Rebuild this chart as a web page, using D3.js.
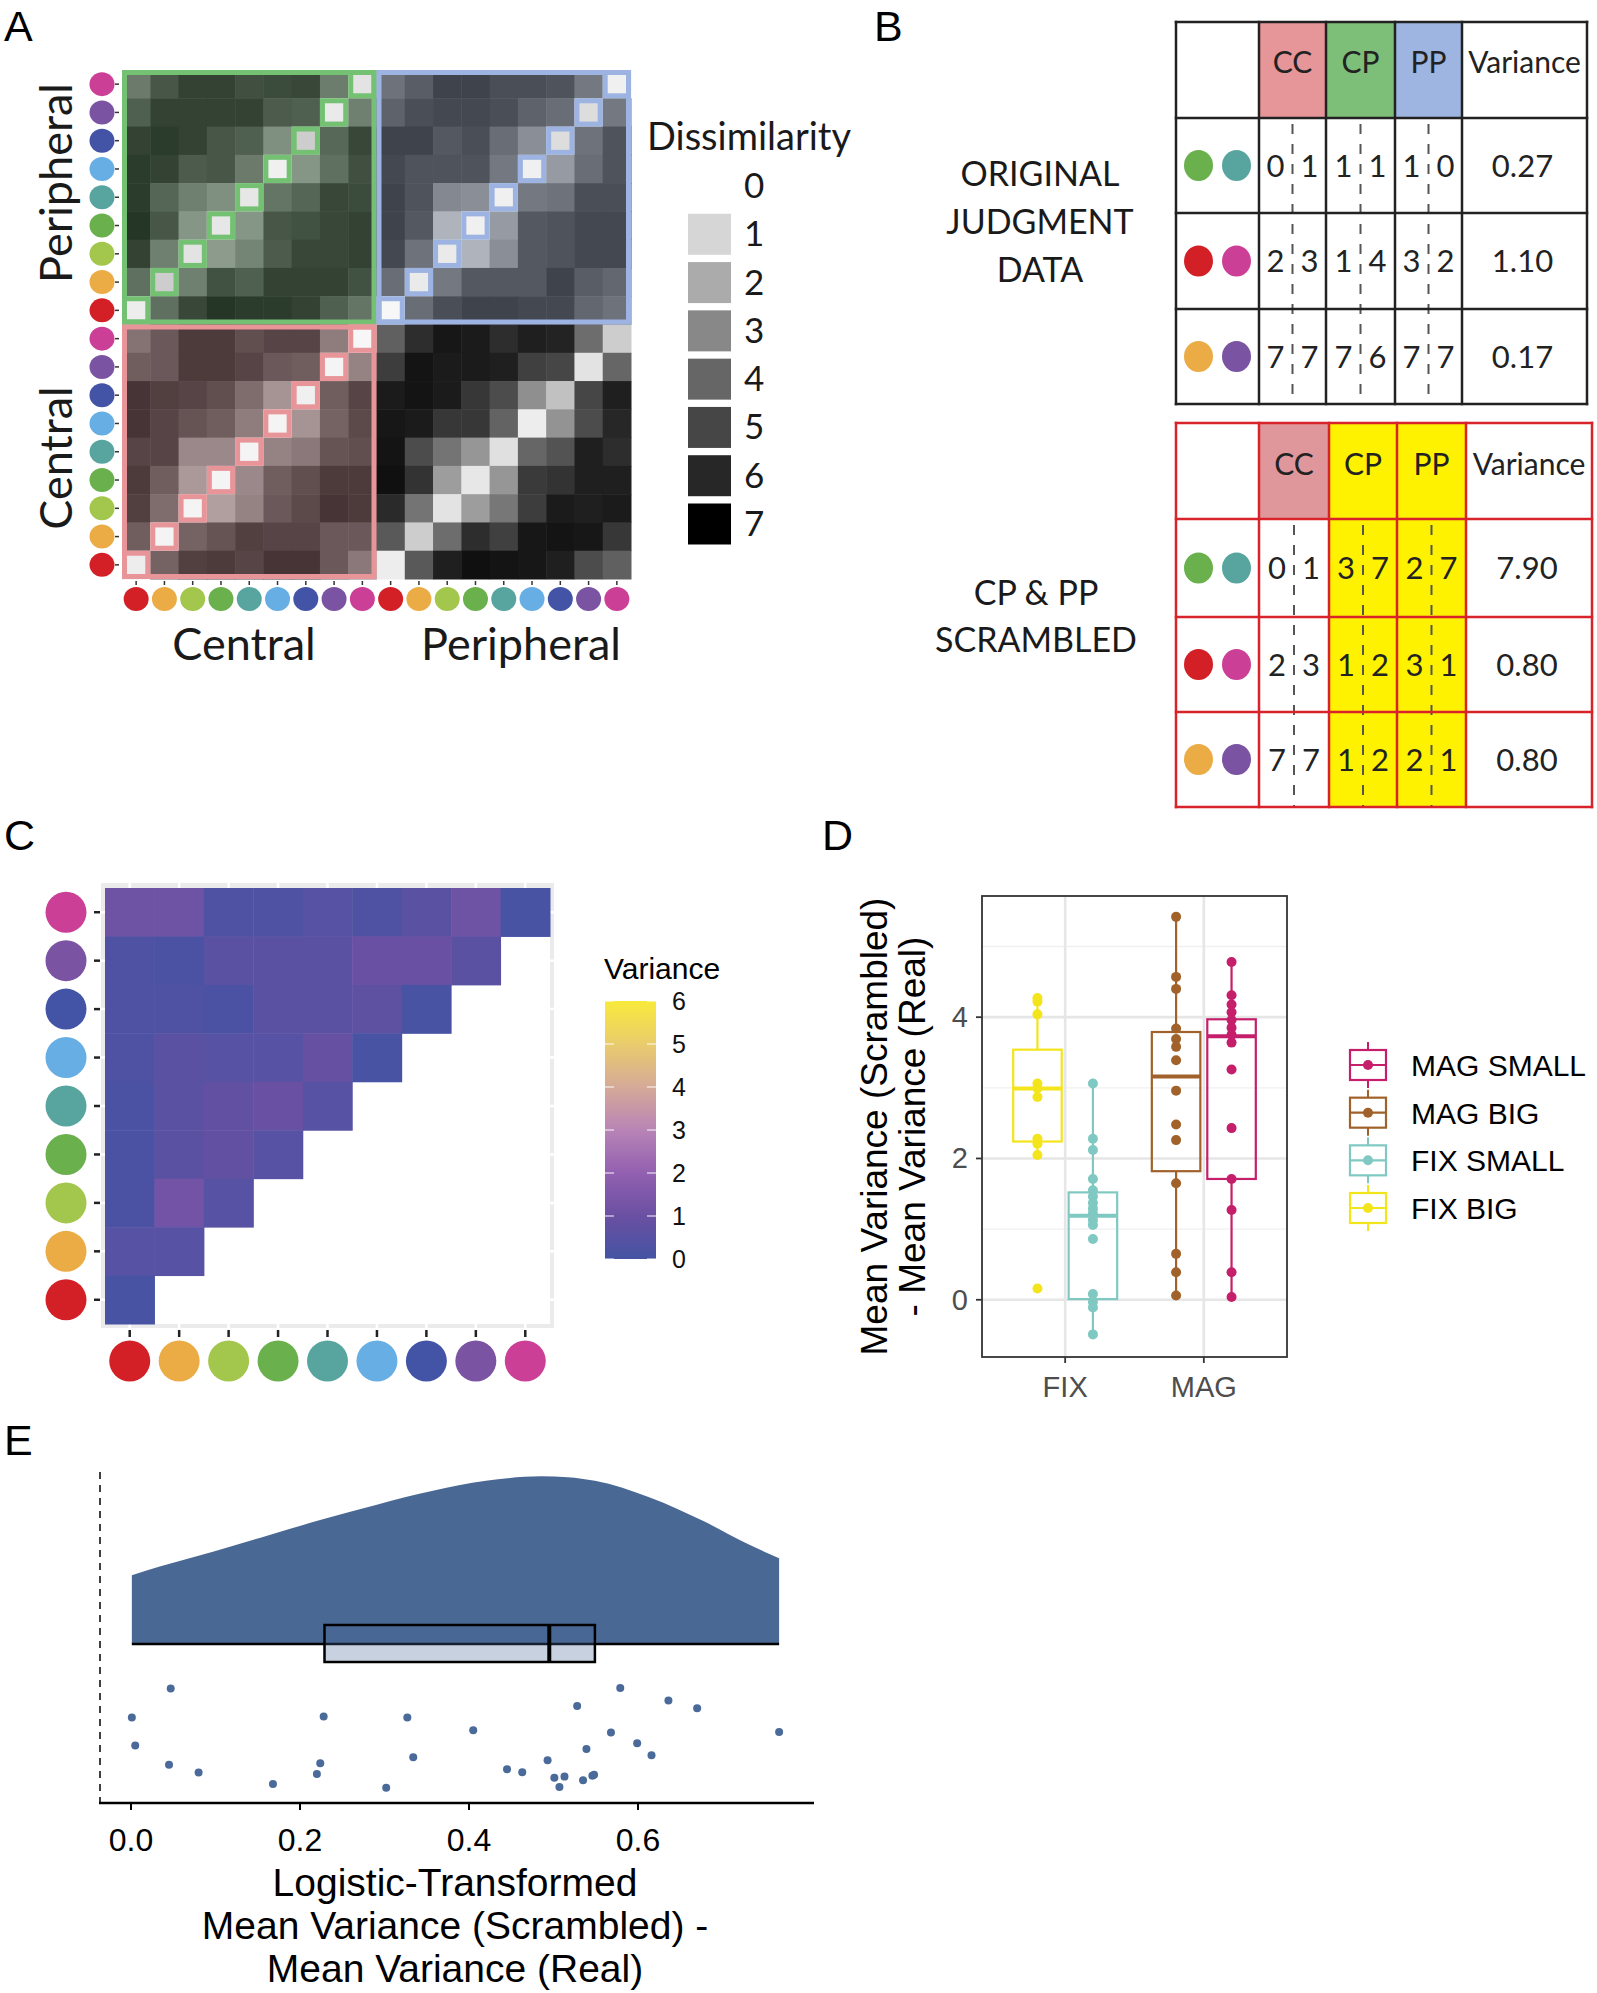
<!DOCTYPE html>
<html><head><meta charset="utf-8">
<script src="https://cdn.jsdelivr.net/npm/d3@7"></script>
<style>body{margin:0;background:#fff}svg{display:block}</style>
</head><body>
<svg id="fig" width="1597" height="1993"></svg>
<script>
// ---------------- DATA ----------------
const hueNames  = ["red","orange","lime","green","teal","lightblue","darkblue","purple","pink"];
const hueColors = ["#d32027","#ebac46","#a3c64c","#6ab04c","#58a59f","#66aee3","#4353a6","#7a53a3","#cb3f96"];

// Panel A: rows listed top (pink) -> bottom (red); columns red -> pink
const matCP = [
 [3.8,5.2,6.0,6.0,5.5,5.6,5.8,3.7,0.6],
 [4.8,6.0,6.0,6.0,6.0,5.0,4.8,0.4,3.6],
 [6.0,6.2,6.0,5.2,4.8,3.0,1.2,4.5,5.8],
 [6.2,6.0,5.0,5.2,3.8,0.2,2.8,4.2,5.5],
 [6.2,4.6,3.6,3.0,0.5,4.0,4.6,5.8,5.6],
 [6.4,5.2,2.8,0.5,2.8,5.2,5.4,5.8,6.0],
 [6.0,3.6,0.6,2.6,3.4,5.0,5.8,5.8,6.0],
 [4.2,1.2,3.6,5.4,4.8,6.0,6.0,6.0,5.4],
 [0.3,4.2,5.8,6.4,6.2,6.2,6.0,4.8,4.0]];
const matPP = [
 [4.0,4.8,5.8,5.8,5.4,5.4,5.2,3.8,0.2],
 [4.6,5.4,5.6,5.6,5.4,4.6,4.2,0.8,3.8],
 [5.8,5.8,5.0,5.4,4.2,3.0,0.8,4.0,5.2],
 [5.6,5.2,5.2,5.2,3.8,0.2,2.6,4.2,5.2],
 [5.8,5.2,3.2,3.0,0.2,3.8,4.0,5.4,5.4],
 [5.8,5.0,1.8,0.2,2.6,5.0,5.2,5.6,5.6],
 [5.6,4.0,0.4,1.8,3.0,5.0,5.2,5.6,5.6],
 [4.2,0.4,3.8,5.0,5.0,5.0,5.8,4.8,4.4],
 [0.0,4.2,5.4,5.8,5.8,5.6,5.6,4.4,4.0]];
const matCC = [
 [3.8,4.8,6.0,6.0,5.2,5.6,5.6,3.4,0.0],
 [4.6,4.8,6.0,6.0,5.6,4.8,4.6,0.1,3.2],
 [6.2,5.8,5.6,5.2,4.0,2.6,0.2,4.6,5.6],
 [6.2,5.6,5.0,4.6,3.4,0.1,2.6,4.4,5.4],
 [5.6,5.6,3.0,3.0,0.1,3.2,3.6,5.0,5.2],
 [6.0,4.6,2.4,0.1,3.0,4.6,5.2,6.0,6.0],
 [5.8,4.0,0.1,2.2,3.2,4.8,5.4,6.2,6.0],
 [4.6,0.1,4.4,5.0,5.8,5.6,5.6,4.8,4.8],
 [0.3,4.4,5.8,6.0,5.6,6.2,6.2,4.8,3.6]];
const matPC = [
 [4.2,5.8,6.4,6.3,5.8,6.2,6.1,3.8,1.2],
 [5.3,6.5,6.3,6.3,6.2,5.2,5.0,0.6,4.0],
 [6.3,6.5,6.3,5.5,4.8,2.8,1.5,5.0,6.2],
 [6.4,6.3,5.5,5.5,4.1,0.3,2.7,4.8,6.0],
 [6.5,4.8,3.6,2.6,0.7,4.0,4.6,6.2,5.8],
 [6.6,5.6,2.4,0.5,2.6,5.4,5.6,6.2,6.2],
 [5.9,3.6,0.6,2.4,3.5,5.3,6.3,6.2,6.3],
 [4.4,1.2,3.8,5.8,5.2,6.4,6.5,6.4,5.5],
 [0.3,4.4,6.2,6.6,6.5,6.4,6.2,4.8,4.2]];
const dissimTicks  = [0,1,2,3,4,5,6,7];
const dissimColors = ["#f7f7f7","#d6d6d6","#ababab","#888888","#666666","#464646","#272727","#000000"];
const axisGroupsA  = ["Central","Peripheral"];

// Panel B
const tableHeaders = ["CC","CP","PP","Variance"];
const origPairs = [["green","teal"],["red","pink"],["orange","purple"]];
const origCC = [[0,1],[2,3],[7,7]];
const origCP = [[1,1],[1,4],[7,6]];
const origPP = [[1,0],[3,2],[7,7]];
const origVar = ["0.27","1.10","0.17"];
const scrPairs = [["green","teal"],["red","pink"],["orange","purple"]];
const scrCC = [[0,1],[2,3],[7,7]];
const scrCP = [[3,7],[1,2],[1,2]];
const scrPP = [[2,7],[3,1],[2,1]];
const scrVar = ["7.90","0.80","0.80"];
const origLabel = ["ORIGINAL","JUDGMENT","DATA"];
const scrLabel = ["CP & PP","SCRAMBLED"];

// Panel C: rows top (pink) -> bottom (red), columns red -> ...
const cVals = [
 [1.1,1.1,0.3,0.3,0.5,0.3,0.6,1.1,0.1],
 [0.3,0.2,0.6,0.6,0.6,1.0,1.0,0.6],
 [0.3,0.3,0.2,0.6,0.6,0.7,0.1],
 [0.3,0.6,0.5,0.5,0.9,0.1],
 [0.2,0.6,0.8,1.0,0.5],
 [0.2,0.6,0.8,0.5],
 [0.2,1.2,0.5],
 [0.5,0.5],
 [0.1]];
const varTicks  = [0,1,2,3,4,5,6];
const varColors = ["#4453a3","#6a50a2","#9260b0","#b884b6","#d5aa98","#e9cc6c","#f8ea3b"];

// Panel D
const dGroups   = ["FIX BIG","FIX SMALL","MAG BIG","MAG SMALL"];
const dCats     = ["FIX","MAG"];
const dColors   = ["#f3e41c","#80c9c2","#a0622a","#c51f6b"];
const boxLower  = [2.05,-0.49,0.06,0.04];
const boxQ1     = [2.24, 0.01,1.82,1.71];
const boxMed    = [2.99, 1.19,3.16,3.73];
const boxQ3     = [3.54, 1.52,3.79,3.97];
const boxUpper  = [4.27, 3.06,5.42,4.78];
const ptsFixBig   = [4.27,4.22,4.04,3.06,2.99,2.87,2.28,2.21,2.05,0.16];
const ptsFixSmall = [3.06,2.28,2.12,1.71,1.55,1.46,1.37,1.29,1.22,1.13,1.06,0.86,0.08,-0.03,-0.11,-0.49];
const ptsMagBig   = [5.42,4.57,4.40,3.84,3.69,3.58,3.39,2.96,2.48,2.26,1.65,0.65,0.39,0.06];
const ptsMagSmall = [4.78,4.31,4.18,4.07,3.96,3.85,3.75,3.64,3.26,2.43,1.71,1.27,0.39,0.04];
const dYTicks = [0,2,4];
const dYMinor = [1,3,5];
const dLegendOrder = ["MAG SMALL","MAG BIG","FIX SMALL","FIX BIG"];

// Panel E
const eX   = [0.047,0.001,0.005,0.045,0.080,0.168,0.228,0.224,0.220,0.302,0.327,0.334,0.405,0.445,0.463,0.493,0.501,0.507,0.513,0.528,0.535,0.539,0.546,0.548,0.568,0.579,0.599,0.616,0.636,0.670,0.767];
const eJit = [-0.280,-0.463,-0.638,-0.759,-0.808,-0.881,-0.456,-0.750,-0.818,-0.904,-0.463,-0.713,-0.542,-0.787,-0.806,-0.731,-0.841,-0.900,-0.834,-0.390,-0.857,-0.661,-0.829,-0.822,-0.556,-0.276,-0.624,-0.699,-0.355,-0.404,-0.554];
const densX = [0.001,0.034,0.098,0.163,0.227,0.292,0.356,0.420,0.485,0.517,0.549,0.614,0.678,0.730,0.767];
const densY = [0.409,0.461,0.551,0.648,0.742,0.831,0.910,0.971,0.998,0.993,0.971,0.872,0.730,0.595,0.510];
const eBox = {q1:0.229, med:0.495, q3:0.549};
const eTicks = [0.0,0.2,0.4,0.6];
const eTitle = ["Logistic-Transformed","Mean Variance (Scrambled) -","Mean Variance (Real)"];

// ---------------- DRAW ----------------
const svg = d3.select("#fig");
const SANS = "'Liberation Sans', Arial, sans-serif";
const HUM = "Lato, 'Open Sans', sans-serif";
const hue = n => hueColors[hueNames.indexOf(n)];

// panel letters
[["A",4,41],["B",874,41],["C",4,850],["D",822,850],["E",4,1455]].forEach(([t,x,y])=>{
  svg.append("text").attr("x",x).attr("y",y).attr("font-family",SANS).attr("font-size",43).attr("fill","#000").text(t);
});

// ===== Panel A =====
(function(){
  const g = svg.append("g");
  const xA = d3.scaleBand().domain(d3.range(18)).range([122,631]);
  const yA = d3.scaleBand().domain(d3.range(18)).range([70,579]);
  const bw = xA.bandwidth();
  const gray = d3.scaleLinear().domain(dissimTicks).range(dissimColors).clamp(true);
  const quads = [
    {mat:matCP, r0:0, c0:0, tint:"#62b062", a:0.2, border:"#74c174"},
    {mat:matPP, r0:0, c0:9, tint:"#93aee2", a:0.17, border:"#9db4e2"},
    {mat:matCC, r0:9, c0:0, tint:"#e48a90", a:0.2,  border:"#e8959a"},
    {mat:matPC, r0:9, c0:9, tint:null}
  ];
  quads.forEach(q=>{
    const cells = [];
    q.mat.forEach((row,r)=>row.forEach((v,c)=>cells.push({r:r+q.r0,c:c+q.c0,v,diag:(c===8-r)})));
    g.selectAll(null).data(cells).enter().append("rect")
      .attr("x",d=>xA(d.c)).attr("y",d=>yA(d.r)).attr("width",bw+0.5).attr("height",bw+0.5)
      .attr("fill",d=> (q.tint && !d.diag) ? d3.interpolateRgb(gray(d.v),q.tint)(q.a) : gray(d.v));
  });
  quads.filter(q=>q.tint).forEach(q=>{
    const diag = d3.range(9).map(r=>({r:r+q.r0,c:8-r+q.c0}));
    g.selectAll(null).data(diag).enter().append("rect")
      .attr("x",d=>xA(d.c)+2.5).attr("y",d=>yA(d.r)+2.5).attr("width",bw-5).attr("height",bw-5)
      .attr("fill","none").attr("stroke",q.border).attr("stroke-width",5);
    g.append("rect").attr("x",xA(q.c0)+2.5).attr("y",yA(q.r0)+2.5)
      .attr("width",9*bw-5).attr("height",9*bw-5)
      .attr("fill","none").attr("stroke",q.border).attr("stroke-width",5);
  });
  // y axis circles + ticks
  d3.range(18).forEach(r=>{
    const cy = yA(r)+bw/2, h = hueColors[8-(r%9)];
    g.append("ellipse").attr("cx",102).attr("cy",cy).attr("rx",12.5).attr("ry",12).attr("fill",h);
    g.append("line").attr("x1",115).attr("x2",119).attr("y1",cy).attr("y2",cy).attr("stroke","#333").attr("stroke-width",1.5);
  });
  d3.range(18).forEach(c=>{
    const cx = xA(c)+bw/2, h = hueColors[c%9];
    g.append("ellipse").attr("cx",cx).attr("cy",599).attr("rx",12.5).attr("ry",12).attr("fill",h);
    g.append("line").attr("x1",cx).attr("x2",cx).attr("y1",581).attr("y2",585).attr("stroke","#333").attr("stroke-width",1.5);
  });
  // axis group labels
  g.append("text").attr("x",244).attr("y",660).attr("text-anchor","middle").attr("font-family",HUM).attr("font-size",45).attr("fill","#1a1a1a").text(axisGroupsA[0]);
  g.append("text").attr("x",521).attr("y",660).attr("text-anchor","middle").attr("font-family",HUM).attr("font-size",45).attr("fill","#1a1a1a").text(axisGroupsA[1]);
  g.append("text").attr("transform","translate(72,183) rotate(-90)").attr("text-anchor","middle").attr("font-family",HUM).attr("font-size",45).attr("fill","#1a1a1a").text(axisGroupsA[1]);
  g.append("text").attr("transform","translate(72,458) rotate(-90)").attr("text-anchor","middle").attr("font-family",HUM).attr("font-size",45).attr("fill","#1a1a1a").text(axisGroupsA[0]);
  // legend
  g.append("text").attr("x",647).attr("y",150).attr("font-family",HUM).attr("font-size",38).attr("fill","#1a1a1a").text("Dissimilarity");
  const ly = d3.scaleLinear().domain([0,7]).range([186,524]);
  dissimTicks.forEach((t,i)=>{
    if(t>0) g.append("rect").attr("x",688).attr("y",ly(t)-20.5).attr("width",43).attr("height",41).attr("fill",dissimColors[i]);
    g.append("text").attr("x",744).attr("y",ly(t)+12).attr("font-family",HUM).attr("font-size",35).attr("fill","#1a1a1a").text(t);
  });
})();

// ===== Panel B =====
function drawTable(cfg){
  const g = svg.append("g");
  const ce = cfg.colEdges, re = cfg.rowEdges;
  cfg.headerFills.forEach((f,i)=>{ if(f) g.append("rect").attr("x",ce[i+1]).attr("y",re[0]).attr("width",ce[i+2]-ce[i+1]).attr("height",re[1]-re[0]).attr("fill",f); });
  cfg.bodyFills.forEach((f,i)=>{ if(f) g.append("rect").attr("x",ce[i+1]).attr("y",re[1]).attr("width",ce[i+2]-ce[i+1]).attr("height",re[4]-re[1]).attr("fill",f); });
  tableHeaders.forEach((h,i)=>{
    g.append("text").attr("x",(ce[i+1]+ce[i+2])/2).attr("y",cfg.headerY).attr("text-anchor","middle")
     .attr("font-family",HUM).attr("font-size",30).attr("fill","#222").text(h);
  });
  [0,1,2].forEach(i=>{
    const cx=(ce[i+1]+ce[i+2])/2;
    g.append("line").attr("x1",cx).attr("x2",cx).attr("y1",re[1]+6).attr("y2",re[4]).attr("stroke","#555").attr("stroke-width",2).attr("stroke-dasharray","10,10");
  });
  cfg.pairs.forEach((p,r)=>{
    const cy = (re[r+1]+re[r+2])/2;
    const c0 = (ce[0]+ce[1])/2;
    g.append("ellipse").attr("cx",c0-19).attr("cy",cy).attr("rx",14.5).attr("ry",15.5).attr("fill",hue(p[0]));
    g.append("ellipse").attr("cx",c0+19).attr("cy",cy).attr("rx",14.5).attr("ry",15.5).attr("fill",hue(p[1]));
    [cfg.cc,cfg.cp,cfg.pp].forEach((arr,i)=>{
      const cx=(ce[i+1]+ce[i+2])/2;
      g.append("text").attr("x",cx-17).attr("y",cy+11).attr("text-anchor","middle").attr("font-family",HUM).attr("font-size",31).attr("fill","#222").text(arr[r][0]);
      g.append("text").attr("x",cx+17).attr("y",cy+11).attr("text-anchor","middle").attr("font-family",HUM).attr("font-size",31).attr("fill","#222").text(arr[r][1]);
    });
    g.append("text").attr("x",(ce[4]+ce[5])/2-2).attr("y",cy+11).attr("text-anchor","middle").attr("font-family",HUM).attr("font-size",31).attr("fill","#222").text(cfg.vars[r]);
  });
  ce.forEach(x=>g.append("line").attr("x1",x).attr("x2",x).attr("y1",re[0]-1.25).attr("y2",re[4]+1.25).attr("stroke",cfg.stroke).attr("stroke-width",2.5));
  re.forEach(y=>g.append("line").attr("x1",ce[0]-1.25).attr("x2",ce[5]+1.25).attr("y1",y).attr("y2",y).attr("stroke",cfg.stroke).attr("stroke-width",2.5));
  cfg.label.forEach((t,i)=>{
    g.append("text").attr("x",cfg.labelX).attr("y",cfg.labelY+i*cfg.labelStep).attr("text-anchor","middle")
     .attr("font-family",HUM).attr("font-size",34).attr("fill","#1a1a1a").text(t);
  });
}
drawTable({colEdges:[1176,1259,1326,1395,1462,1587], rowEdges:[22,118,213,309,404], stroke:"#222",
  headerFills:["#e69598","#7dbe78","#9fb5e1",null], bodyFills:[null,null,null,null], headerY:73,
  pairs:origPairs, cc:origCC, cp:origCP, pp:origPP, vars:origVar,
  label:origLabel, labelX:1040, labelY:186, labelStep:48});
drawTable({colEdges:[1176,1259,1329,1397,1466,1592], rowEdges:[423,519,617,712,807], stroke:"#d8232a",
  headerFills:["#e0979c","#fff200","#fff200",null], bodyFills:[null,"#fff200","#fff200",null], headerY:475,
  pairs:scrPairs, cc:scrCC, cp:scrCP, pp:scrPP, vars:scrVar,
  label:scrLabel, labelX:1036, labelY:605, labelStep:47});

// ===== Panel C =====
(function(){
  const g = svg.append("g");
  const xC = d3.scaleBand().domain(d3.range(9)).range([105,550]);
  const yC = d3.scaleBand().domain(d3.range(9)).range([888,1324]);
  const col = d3.scaleLinear().domain(varTicks).range(varColors).clamp(true);
  g.append("rect").attr("x",101).attr("y",883).attr("width",453).attr("height",445).attr("fill","#ebebeb");
  g.append("rect").attr("x",105).attr("y",888).attr("width",445).attr("height",436).attr("fill","#fff");
  d3.range(9).forEach(i=>{
    const cx = xC(i)+xC.bandwidth()/2, cy = yC(i)+yC.bandwidth()/2;
    g.append("line").attr("x1",cx).attr("x2",cx).attr("y1",883).attr("y2",1328).attr("stroke","#fff").attr("stroke-width",2.5);
    g.append("line").attr("x1",101).attr("x2",554).attr("y1",cy).attr("y2",cy).attr("stroke","#fff").attr("stroke-width",2.5);
  });
  const cells=[];
  cVals.forEach((row,r)=>row.forEach((v,c)=>cells.push({r,c,v})));
  g.selectAll(null).data(cells).enter().append("rect")
    .attr("x",d=>xC(d.c)).attr("y",d=>yC(d.r)).attr("width",xC.bandwidth()+0.5).attr("height",yC.bandwidth()+0.5)
    .attr("fill",d=>col(d.v));
  d3.range(9).forEach(i=>{
    const cy = yC(i)+yC.bandwidth()/2, cx = xC(i)+xC.bandwidth()/2;
    g.append("line").attr("x1",94).attr("x2",100).attr("y1",cy).attr("y2",cy).attr("stroke","#222").attr("stroke-width",2.5);
    g.append("ellipse").attr("cx",66).attr("cy",cy).attr("rx",20.5).attr("ry",20.5).attr("fill",hueColors[8-i]);
    g.append("line").attr("x1",cx).attr("x2",cx).attr("y1",1330).attr("y2",1337).attr("stroke","#222").attr("stroke-width",2.5);
    g.append("ellipse").attr("cx",cx).attr("cy",1361).attr("rx",20.5).attr("ry",20.5).attr("fill",hueColors[i]);
  });
  g.append("text").attr("x",604).attr("y",979).attr("font-family",SANS).attr("font-size",30).attr("fill","#000").text("Variance");
  const defs = svg.append("defs");
  const grad = defs.append("linearGradient").attr("id","varGrad").attr("x1",0).attr("x2",0).attr("y1",1).attr("y2",0);
  varTicks.forEach((t,i)=>grad.append("stop").attr("offset",t/6).attr("stop-color",varColors[i]));
  const ly = d3.scaleLinear().domain([0,6]).range([1259,1001]);
  g.append("rect").attr("x",605).attr("y",1001).attr("width",51).attr("height",258).attr("fill","url(#varGrad)");
  varTicks.forEach(t=>{
    g.append("line").attr("x1",605).attr("x2",614).attr("y1",ly(t)).attr("y2",ly(t)).attr("stroke","#fff").attr("stroke-opacity",0.8).attr("stroke-width",1.2);
    g.append("line").attr("x1",647).attr("x2",656).attr("y1",ly(t)).attr("y2",ly(t)).attr("stroke","#fff").attr("stroke-opacity",0.8).attr("stroke-width",1.2);
    g.append("text").attr("x",672).attr("y",ly(t)+9).attr("font-family",SANS).attr("font-size",25).attr("fill","#111").text(t);
  });
})();

// ===== Panel D =====
(function(){
  const g = svg.append("g");
  const L=982,R=1287,T=896,B=1357;
  const xD = d3.scaleLinear().domain([0.4,2.6]).range([L,R]);
  const yD = d3.scaleLinear().domain([-0.81,5.715]).range([B,T]);
  g.append("rect").attr("x",L).attr("y",T).attr("width",R-L).attr("height",B-T).attr("fill","#fff");
  dYMinor.forEach(v=>g.append("line").attr("x1",L).attr("x2",R).attr("y1",yD(v)).attr("y2",yD(v)).attr("stroke","#f0f0f0").attr("stroke-width",1.3));
  dYTicks.forEach(v=>g.append("line").attr("x1",L).attr("x2",R).attr("y1",yD(v)).attr("y2",yD(v)).attr("stroke","#e6e6e6").attr("stroke-width",2.6));
  dCats.forEach((c,i)=>g.append("line").attr("x1",xD(i+1)).attr("x2",xD(i+1)).attr("y1",T).attr("y2",B).attr("stroke","#e6e6e6").attr("stroke-width",2.6));
  const pts = [ptsFixBig,ptsFixSmall,ptsMagBig,ptsMagSmall];
  dGroups.forEach((grp,i)=>{
    const cat = dCats.indexOf(grp.split(" ")[0]);
    const pos = cat+1 + (grp.endsWith("BIG") ? -0.2 : 0.2);
    const cx = xD(pos), hw = (xD(0.175)-xD(0));
    const c = dColors[i];
    g.append("line").attr("x1",cx).attr("x2",cx).attr("y1",yD(boxUpper[i])).attr("y2",yD(boxQ3[i])).attr("stroke",c).attr("stroke-width",2.2);
    g.append("line").attr("x1",cx).attr("x2",cx).attr("y1",yD(boxQ1[i])).attr("y2",yD(boxLower[i])).attr("stroke",c).attr("stroke-width",2.2);
    g.append("rect").attr("x",cx-hw).attr("y",yD(boxQ3[i])).attr("width",2*hw).attr("height",yD(boxQ1[i])-yD(boxQ3[i]))
      .attr("fill","#fff").attr("fill-opacity",0.01).attr("stroke",c).attr("stroke-width",2.2);
    g.append("line").attr("x1",cx-hw).attr("x2",cx+hw).attr("y1",yD(boxMed[i])).attr("y2",yD(boxMed[i])).attr("stroke",c).attr("stroke-width",4);
    g.selectAll(null).data(pts[i]).enter().append("circle").attr("cx",cx).attr("cy",d=>yD(d)).attr("r",5).attr("fill",c);
  });
  g.append("rect").attr("x",L).attr("y",T).attr("width",R-L).attr("height",B-T).attr("fill","none").attr("stroke","#333").attr("stroke-width",1.8);
  dYTicks.forEach(v=>{
    g.append("line").attr("x1",L-6).attr("x2",L).attr("y1",yD(v)).attr("y2",yD(v)).attr("stroke","#333").attr("stroke-width",1.8);
    g.append("text").attr("x",L-14).attr("y",yD(v)+10).attr("text-anchor","end").attr("font-family",SANS).attr("font-size",29).attr("fill","#4d4d4d").text(v);
  });
  dCats.forEach((c,i)=>{
    g.append("line").attr("x1",xD(i+1)).attr("x2",xD(i+1)).attr("y1",B).attr("y2",B+6).attr("stroke","#333").attr("stroke-width",1.8);
    g.append("text").attr("x",xD(i+1)).attr("y",B+40).attr("text-anchor","middle").attr("font-family",SANS).attr("font-size",29).attr("fill","#4d4d4d").text(c);
  });
  g.append("text").attr("transform",`translate(887,${(T+B)/2}) rotate(-90)`).attr("text-anchor","middle").attr("font-family",SANS).attr("font-size",37).attr("fill","#000").text("Mean Variance (Scrambled)");
  g.append("text").attr("transform",`translate(925,${(T+B)/2}) rotate(-90)`).attr("text-anchor","middle").attr("font-family",SANS).attr("font-size",37).attr("fill","#000").text("- Mean Variance (Real)");
  const ly = d3.scaleLinear().domain([0,3]).range([1065,1208]);
  dLegendOrder.forEach((name,k)=>{
    const i = dGroups.indexOf(name), c = dColors[i], cy = ly(k), cx = 1368;
    g.append("line").attr("x1",cx).attr("x2",cx).attr("y1",cy-23).attr("y2",cy+23).attr("stroke",c).attr("stroke-width",2);
    g.append("rect").attr("x",cx-18).attr("y",cy-15).attr("width",36).attr("height",30).attr("fill","#fff").attr("stroke",c).attr("stroke-width",2.2);
    g.append("line").attr("x1",cx-18).attr("x2",cx+18).attr("y1",cy).attr("y2",cy).attr("stroke",c).attr("stroke-width",2.2);
    g.append("circle").attr("cx",cx).attr("cy",cy).attr("r",5).attr("fill",c);
    g.append("text").attr("x",1411).attr("y",cy+11).attr("font-family",SANS).attr("font-size",30).attr("fill","#000").text(name);
  });
})();

// ===== Panel E =====
(function(){
  const g = svg.append("g");
  const xE = d3.scaleLinear().domain([0,0.6]).range([131,638]);
  const yDens = d3.scaleLinear().domain([0,1]).range([1644,1476]);
  const yJit = d3.scaleLinear().domain([0,-1]).range([1644,1803]);
  const dens = densX.map((x,i)=>[x,densY[i]]);
  g.append("path").datum(dens)
    .attr("d",d3.area().x(d=>xE(d[0])).y0(yDens(0)).y1(d=>yDens(d[1])).curve(d3.curveMonotoneX))
    .attr("fill","#4a6894");
  g.append("line").attr("x1",xE(densX[0])).attr("x2",xE(densX[densX.length-1])).attr("y1",yDens(0)).attr("y2",yDens(0)).attr("stroke","#000").attr("stroke-width",2.5);
  g.append("rect").attr("x",xE(eBox.q1)).attr("y",1625).attr("width",xE(eBox.q3)-xE(eBox.q1)).attr("height",37)
    .attr("fill","rgba(74,104,148,0.3)").attr("stroke","#000").attr("stroke-width",2.5);
  g.append("line").attr("x1",xE(eBox.med)).attr("x2",xE(eBox.med)).attr("y1",1625).attr("y2",1662).attr("stroke","#000").attr("stroke-width",4);
  g.selectAll(null).data(eX).enter().append("circle")
    .attr("cx",d=>xE(d)).attr("cy",(d,i)=>yJit(eJit[i])).attr("r",4).attr("fill","#4a6a9a");
  g.append("line").attr("x1",100).attr("x2",100).attr("y1",1472).attr("y2",1803).attr("stroke","#000").attr("stroke-width",1.5).attr("stroke-dasharray","7,6");
  g.append("line").attr("x1",99).attr("x2",814).attr("y1",1803).attr("y2",1803).attr("stroke","#000").attr("stroke-width",2.5);
  eTicks.forEach(t=>{
    g.append("line").attr("x1",xE(t)).attr("x2",xE(t)).attr("y1",1803).attr("y2",1810).attr("stroke","#000").attr("stroke-width",2);
    g.append("text").attr("x",xE(t)).attr("y",1851).attr("text-anchor","middle").attr("font-family",SANS).attr("font-size",32).attr("fill","#000").text(t.toFixed(1));
  });
  eTitle.forEach((t,i)=>{
    g.append("text").attr("x",455).attr("y",1896+i*43).attr("text-anchor","middle").attr("font-family",SANS).attr("font-size",39).attr("fill","#000").text(t);
  });
})();
</script>
</body></html>
